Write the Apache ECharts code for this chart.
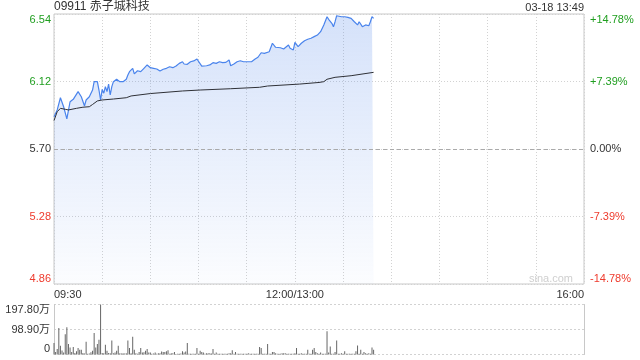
<!DOCTYPE html>
<html>
<head>
<meta charset="utf-8">
<script src="https://cdn.jsdelivr.net/npm/echarts@6/dist/echarts.min.js"></script>
<style>html,body{margin:0;padding:0;background:#fff}#c{width:640px;height:360px}</style>
</head>
<body>
<div id="c"></div>
<script>
// ---- data ----
const titleText = '09911 赤子城科技';
const timeText = '03-18 13:49';
const xTickLabels = {0: '09:30', 150: '12:00/13:00', 330: '16:00'};
const prevClose = 5.70;

const priceMinutes = [0,2,4,5,6,8,10,12,13,15,17,18,19,20,22,24,25,27,28,29,30,31,32,33,34,35,36,37,38,39,41,43,45,46,47,49,50,52,54,55,56,58,60,62,64,66,68,70,72,74,76,78,80,81,83,85,87,89,90,92,93,95,97,99,101,103,105,107,109,110,112,114,116,118,120,123,125,127,129,131,132,134,135,136,138,139,141,143,146,147,149,150,152,153,154,156,158,160,162,164,166,168,170,171,173,174,175,176,177,179,181,183,185,187,188,189,190,191,192,194,196,197,198,199];
const prices = [5.901,5.943,6.019,6.025,5.963,5.887,5.994,6.009,6.005,6.057,6.025,6.015,5.968,6.005,6.025,6.067,6.119,6.119,6.067,6.005,6.071,6.047,6.088,6.057,6.104,6.036,6.088,6.119,6.109,6.134,6.119,6.119,6.134,6.160,6.181,6.202,6.167,6.187,6.181,6.192,6.202,6.223,6.206,6.202,6.198,6.185,6.196,6.202,6.212,6.206,6.216,6.233,6.243,6.229,6.227,6.243,6.248,6.260,6.262,6.216,6.212,6.218,6.223,6.237,6.233,6.243,6.237,6.239,6.254,6.218,6.229,6.243,6.249,6.243,6.243,6.243,6.258,6.271,6.299,6.295,6.291,6.305,6.316,6.358,6.333,6.327,6.330,6.322,6.347,6.327,6.316,6.364,6.337,6.347,6.358,6.374,6.383,6.389,6.399,6.409,6.430,6.472,6.523,6.507,6.482,6.461,6.492,6.529,6.529,6.523,6.523,6.519,6.513,6.492,6.503,6.472,6.492,6.482,6.461,6.472,6.467,6.492,6.523,6.513];

const avgMinutes = [0,2,4,5,7,9,14,18,22,24,27,30,37,45,48,60,80,91,110,128,133,153,165,168,170,175,185,199];
const avgPrices = [5.877,5.932,5.953,5.963,5.947,5.943,5.953,5.960,5.963,5.977,5.999,6.005,6.011,6.019,6.030,6.045,6.061,6.067,6.075,6.084,6.092,6.104,6.114,6.119,6.134,6.146,6.156,6.177];

// volume per minute (万), minute 0..199
const volumes = [45,10,22,105,35,16,8,80,108,42,28,10,30,6,13,26,19,19,6,4,
50,3,4,9,15,85,28,42,58,198,6,5,39,15,6,5,55,5,8,15,
35,5,4,5,4,5,55,26,5,70,19,5,3,10,26,8,9,15,22,8,
8,3,4,8,3,5,5,12,10,10,13,17,3,5,5,10,2,3,3,4,
13,8,12,45,3,3,3,3,3,26,3,15,10,8,3,5,5,5,4,22,
3,8,3,3,3,3,3,3,3,5,5,17,3,10,3,3,3,3,3,3,
3,5,3,3,3,3,3,3,30,26,3,3,3,42,3,3,10,10,5,3,
3,3,5,5,5,3,3,3,3,3,5,26,3,3,5,3,3,3,19,3,
3,19,26,10,5,3,8,3,3,3,92,8,32,3,3,10,55,3,3,5,
3,13,3,3,3,3,3,3,13,36,3,19,3,10,5,3,5,3,28,19];

const priceTicks = {min: 4.86, max: 6.54, interval: 0.42};
const pctTicks = {min: -14.78, max: 14.78, interval: 7.39};
const volTicks = {min: 0, max: 197.8, interval: 98.9};

// ---- chart ----
const FONT = '"Liberation Sans", Arial, "Noto Sans CJK SC", sans-serif';
const GREEN = '#1f9e1f', RED = '#ee3b2d', DARK = '#333';
const GRIDC = '#d2d2d2';

const priceData = priceMinutes.map((m, i) => [m, prices[i]]);
const avgData = avgMinutes.map((m, i) => [m, avgPrices[i]]);
const volData = volumes.map((v, i) => [i, v]);

const chart = echarts.init(document.getElementById('c'), null, {renderer: 'canvas'});
chart.setOption({
  animation: false,
  textStyle: {fontFamily: FONT},
  title: [
    {text: titleText, left: 54, top: 1, padding: 0,
     textStyle: {fontSize: 12, fontWeight: 'normal', color: DARK, fontFamily: FONT}},
    {text: timeText, right: 56, top: 2, padding: 0,
     textStyle: {fontSize: 11, fontWeight: 'normal', color: DARK, fontFamily: FONT}}
  ],
  graphic: [
    {type: 'text', right: 67, top: 273, silent: true,
     style: {text: 'sina.com', fill: '#cfcfcf', font: '11px ' + FONT}}
  ],
  grid: [
    {left: 54, right: 56, top: 14, height: 270, show: true, borderColor: '#c8c8c8', borderWidth: 1, backgroundColor: 'transparent'},
    {left: 54, right: 56, top: 304.5, height: 50, show: false}
  ],
  xAxis: [
    {type: 'value', gridIndex: 0, min: 0, max: 330, interval: 30,
     axisLine: {show: false}, axisTick: {show: false},
     splitLine: {show: true, lineStyle: {color: GRIDC, type: [1, 2], width: 1}},
     axisLabel: {show: true, margin: 5, fontSize: 11, color: DARK, fontFamily: FONT,
       alignMinLabel: 'left', alignMaxLabel: 'right',
       formatter: v => xTickLabels[v] || ''}},
    {type: 'value', gridIndex: 1, min: 0, max: 330, interval: 30,
     axisLine: {show: false}, axisTick: {show: false}, axisLabel: {show: false},
     splitLine: {show: false}}
  ],
  yAxis: [
    {type: 'value', gridIndex: 0, position: 'left', min: priceTicks.min, max: priceTicks.max, interval: priceTicks.interval,
     axisLine: {show: false}, axisTick: {show: false},
     splitLine: {show: true, lineStyle: {color: GRIDC, type: [1, 2], width: 1}},
     axisLabel: {margin: 3, fontSize: 11, fontFamily: FONT,
       verticalAlignMinLabel: 'bottom', verticalAlignMaxLabel: 'top',
       formatter: v => v.toFixed(2),
       color: v => { const n = parseFloat(v); return n > prevClose + 1e-6 ? GREEN : (n < prevClose - 1e-6 ? RED : DARK); }}},
    {type: 'value', gridIndex: 0, position: 'right', min: pctTicks.min, max: pctTicks.max, interval: pctTicks.interval,
     axisLine: {show: false}, axisTick: {show: false}, splitLine: {show: false},
     axisLabel: {margin: 6, fontSize: 11, fontFamily: FONT,
       verticalAlignMinLabel: 'bottom', verticalAlignMaxLabel: 'top',
       formatter: v => (v > 1e-6 ? '+' : '') + (Math.abs(v) < 1e-6 ? '0.00' : v.toFixed(2)) + '%',
       color: v => { const n = parseFloat(v); return n > 1e-6 ? GREEN : (n < -1e-6 ? RED : DARK); }}},
    {type: 'value', gridIndex: 1, position: 'left', min: volTicks.min, max: volTicks.max, interval: volTicks.interval,
     axisLine: {show: true, lineStyle: {color: '#c8c8c8'}}, axisTick: {show: false},
     splitLine: {show: true, lineStyle: {color: GRIDC, type: [2, 2], width: 1}},
     axisLabel: {margin: 4, fontSize: 11, color: DARK, fontFamily: FONT,
       verticalAlignMinLabel: 'bottom', verticalAlignMaxLabel: 'top',
       formatter: v => v === 0 ? '0' : v.toFixed(2) + '万'}},
    {type: 'value', gridIndex: 1, position: 'right', min: volTicks.min, max: volTicks.max, interval: volTicks.interval,
     axisLine: {show: true, lineStyle: {color: '#c8c8c8'}}, axisTick: {show: false},
     splitLine: {show: false}, axisLabel: {show: false}}
  ],
  series: [
    {type: 'line', name: 'price', xAxisIndex: 0, yAxisIndex: 0, data: priceData,
     showSymbol: false, symbol: 'none', silent: true,
     lineStyle: {color: '#4a84ec', width: 1.2},
     areaStyle: {origin: 'start', color: new echarts.graphic.LinearGradient(0, 0, 0, 1, [
       {offset: 0, color: 'rgba(90,140,235,0.36)'},
       {offset: 1, color: 'rgba(90,140,235,0.03)'}
     ])},
     markLine: {silent: true, symbol: 'none', label: {show: false},
       lineStyle: {color: '#aaaaaa', type: [4, 3], width: 1},
       data: [{yAxis: prevClose}]}},
    {type: 'line', name: 'avg', xAxisIndex: 0, yAxisIndex: 0, data: avgData,
     showSymbol: false, symbol: 'none', silent: true,
     lineStyle: {color: '#2e3036', width: 1}},
    {type: 'bar', name: 'vol', xAxisIndex: 1, yAxisIndex: 2, data: volData,
     barWidth: 1, silent: true, itemStyle: {color: '#666'}}
  ]
});
</script>
</body>
</html>
